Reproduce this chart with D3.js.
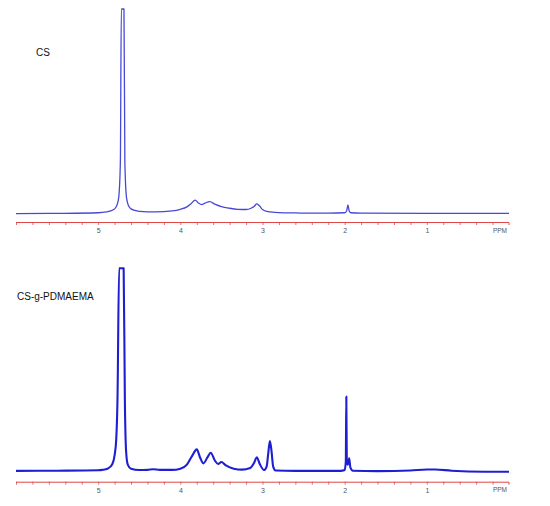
<!DOCTYPE html>
<html><head><meta charset="utf-8">
<script src="https://cdn.jsdelivr.net/npm/d3@7"></script>
<style>body{margin:0;background:#fff;}svg{display:block;}</style>
</head><body>
<svg id="c" width="550" height="506"></svg>
<script>
// Shift (ppm) axis ticks
const ppmDomain = [6, 0];
const minorTicks = d3.range(0, 30).map(i => +(6 - i * 0.2).toFixed(1)).filter(v => v > 0);
const tickLabels = [5, 4, 3, 2, 1];
const panelLabels = ["CS", "CS-g-PDMAEMA"];

// Spectrum 1: CS  [ppm, relative intensity]
const csPpm = [6.0,5.5,5.0,4.9,4.85,4.8,4.77,4.75,4.73,4.718,4.686,4.675,4.655,4.63,4.6,4.55,4.5,4.3,4.1,4.0,3.92,3.87,3.82,3.78,3.74,3.70,3.64,3.58,3.5,3.4,3.3,3.2,3.14,3.10,3.07,3.04,3.0,2.95,2.85,2.6,2.2,2.0,1.975,1.96,1.945,1.925,1.8,1.0,0.0];
const csVal = [0.2,0.3,0.6,1.0,1.5,2.5,4.5,8,25,130,130,25,8,4,2.5,1.8,1.3,1.0,1.5,2.3,3.5,5.0,6.8,5.4,4.6,5.3,6.0,4.8,3.6,2.8,2.3,2.2,2.8,3.8,4.9,4.1,2.2,1.3,0.8,0.5,0.4,0.6,1.6,4.4,1.5,0.6,0.4,0.3,0.3];

// Spectrum 2: CS-g-PDMAEMA
const pdPpm = [6.0,5.5,5.0,4.95,4.88,4.83,4.80,4.78,4.765,4.745,4.69,4.675,4.66,4.64,4.6,4.5,4.4,4.33,4.25,4.1,4.0,3.92,3.86,3.80,3.76,3.72,3.67,3.63,3.58,3.54,3.50,3.45,3.35,3.25,3.15,3.10,3.07,3.03,2.98,2.95,2.93,2.91,2.89,2.87,2.84,2.6,2.3,2.05,2.0,1.986,1.98,1.974,1.96,1.945,1.93,1.9,1.6,1.2,1.0,0.9,0.7,0.3,0.0];
const pdVal = [0.4,0.5,0.7,0.9,1.6,3.5,8,16,35,130,130,35,10,3.5,1.5,0.8,0.9,1.2,0.9,0.9,1.5,3.5,7.5,11,7,4.1,7,9.3,5.5,3.8,4.8,3.2,1.5,1.0,1.8,4.5,7.1,3.5,0.8,2.5,9,15.1,10,2.5,0.6,0.4,0.4,0.4,0.8,5,37,5,3.5,6.6,2,0.5,0.3,0.6,1.1,1.1,0.5,0.0,-0.4];

const panels = [
  {label: panelLabels[0], ppm: csPpm, val: csVal, top: 9, base: 214, axisY: 222, color: "#4848d8", width: 1.3, lx: 36, ly: 56},
  {label: panelLabels[1], ppm: pdPpm, val: pdVal, top: 268.3, base: 471.7, axisY: 481.7, color: "#1e1ed2", width: 2.1, lx: 17, ly: 300}
];

const svg = d3.select("#c");
const x = d3.scaleLinear().domain(ppmDomain).range([16, 509]);

panels.forEach(p => {
  const y = d3.scaleLinear().domain([0, 100]).range([p.base, p.top]).clamp(true);
  const data = p.ppm.map((d, i) => [d, p.val[i]]);
  const line = d3.line().x(d => x(d[0])).y(d => y(d[1])).curve(d3.curveMonotoneX);
  svg.append("path").datum(data).attr("d", line)
    .attr("fill", "none").attr("stroke", p.color).attr("stroke-width", p.width)
    .attr("stroke-linejoin", "round");

  const axis = d3.axisBottom(x).tickValues(minorTicks).tickSize(3).tickPadding(3)
    .tickFormat(d => tickLabels.includes(d) ? String(d) : "");
  const g = svg.append("g").attr("transform", `translate(0,${p.axisY})`).call(axis);
  g.select(".domain").attr("stroke", "#e04848").attr("d", `M16,0.5H509V3`);
  g.selectAll(".tick line").attr("stroke", "#e04848").attr("stroke-width", 0.8);
  g.selectAll(".tick text").attr("fill", "#555").attr("font-size", "7px").attr("font-family", "Liberation Sans, Arial, sans-serif");
  g.append("text").attr("x", 500).attr("y", 6).attr("dy", "0.71em").attr("text-anchor", "middle")
    .attr("fill", "#555").attr("font-size", "6.5px").attr("font-family", "Liberation Sans, Arial, sans-serif").text("PPM");

  svg.append("text").attr("x", p.lx).attr("y", p.ly).attr("font-size", "10px")
    .attr("font-family", "Liberation Sans, Arial, sans-serif").attr("fill", "#111").text(p.label);
});
</script>
</body></html>
